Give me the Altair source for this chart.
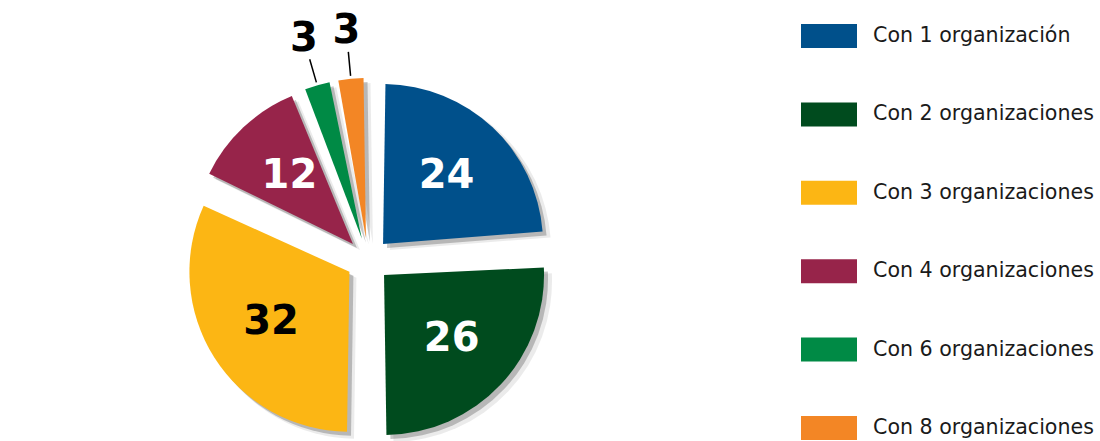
import altair as alt
import pandas as pd

categories = ["Con 1 organización", "Con 2 organizaciones", "Con 3 organizaciones",
              "Con 4 organizaciones", "Con 6 organizaciones", "Con 8 organizaciones"]
values = [24, 26, 32, 12, 3, 3]
colors = ["#00508b", "#004b1e", "#fcb614", "#97244a", "#008a45", "#f38625"]
label_colors = ["white", "white", "black", "white", "black", "black"]

df = pd.DataFrame({
    "cat": categories,
    "value": values,
    "order": list(range(len(values))),
    "lcolor": label_colors,
})

CX, CY, R, D = 368, 260, 160, 22
PAD = 0.03

base = (
    alt.Chart(df)
    .transform_window(cum="sum(value)", sort=[alt.SortField("order")], frame=[None, 0])
    .transform_joinaggregate(total="sum(value)")
    .transform_calculate(t0="(datum.cum - datum.value) / datum.total * 2 * PI")
    .transform_calculate(t1="datum.cum / datum.total * 2 * PI")
    .transform_calculate(mid="(datum.t0 + datum.t1) / 2")
    .transform_calculate(cx=f"{CX} + {D} * sin(datum.mid)")
    .transform_calculate(cy=f"{CY} - {D} * cos(datum.mid)")
)

theta = alt.Theta("t0:Q", scale=None, stack=None)
theta2 = alt.Theta2("t1:Q")

shadow2 = base.transform_calculate(sx="datum.cx + 7", sy="datum.cy + 6").mark_arc(
    outerRadius=R + 1, padAngle=PAD, color="#000000", opacity=0.08
).encode(theta=theta, theta2=theta2,
         x=alt.X("sx:Q", scale=None), y=alt.Y("sy:Q", scale=None))

shadow = base.transform_calculate(sx="datum.cx + 4", sy="datum.cy + 4").mark_arc(
    outerRadius=R, padAngle=PAD, color="#000000", opacity=0.22
).encode(theta=theta, theta2=theta2,
         x=alt.X("sx:Q", scale=None), y=alt.Y("sy:Q", scale=None))

arcs = base.mark_arc(outerRadius=R, padAngle=PAD).encode(
    theta=theta, theta2=theta2,
    x=alt.X("cx:Q", scale=None), y=alt.Y("cy:Q", scale=None),
    color=alt.Color("cat:N", scale=alt.Scale(domain=categories, range=colors), legend=None),
)

inner = (
    base.transform_filter("datum.value >= 10")
    .transform_calculate(lx=f"datum.cx + {0.58 * R} * sin(datum.mid)")
    .transform_calculate(ly=f"datum.cy - {0.58 * R} * cos(datum.mid)")
    .mark_text(fontSize=40, fontWeight="bold", font="DejaVu Sans", baseline="middle", align="center")
    .encode(x=alt.X("lx:Q", scale=None), y=alt.Y("ly:Q", scale=None),
            text="value:Q", color=alt.Color("lcolor:N", scale=None))
)

outer_base = base.transform_filter("datum.value < 10")

leaders = (
    outer_base
    .transform_calculate(x1=f"datum.cx + {R + 3} * sin(datum.mid)")
    .transform_calculate(y1=f"datum.cy - {R + 3} * cos(datum.mid)")
    .transform_calculate(x2=f"datum.cx + {R + 27} * sin(datum.mid)")
    .transform_calculate(y2=f"datum.cy - {R + 27} * cos(datum.mid)")
    .mark_rule(color="black", strokeWidth=1.5)
    .encode(x=alt.X("x1:Q", scale=None), y=alt.Y("y1:Q", scale=None),
            x2="x2:Q", y2="y2:Q")
)

outer = (
    outer_base
    .transform_calculate(lx=f"datum.cx + {R + 48} * sin(datum.mid)")
    .transform_calculate(ly=f"datum.cy - {R + 48} * cos(datum.mid)")
    .mark_text(fontSize=40, fontWeight="bold", font="DejaVu Sans", baseline="middle",
               align="center", color="black")
    .encode(x=alt.X("lx:Q", scale=None), y=alt.Y("ly:Q", scale=None), text="value:Q")
)

leg_y = alt.Y("cat:N", scale=alt.Scale(domain=categories, range=[36, 428], padding=0), axis=None)
swatch_path = "M-1,-0.4286L1,-0.4286L1,0.4286L-1,0.4286Z"

leg_sw = alt.Chart(df).mark_point(shape=swatch_path, size=3136, filled=True, opacity=1, strokeWidth=0).encode(
    x=alt.value(829), y=leg_y,
    color=alt.Color("cat:N", scale=alt.Scale(domain=categories, range=colors), legend=None),
)

leg_txt = alt.Chart(df).mark_text(
    align="left", baseline="middle", fontSize=20.6, font="DejaVu Sans", color="#1a1a1a"
).encode(x=alt.value(873), y=leg_y, text="cat:N")

chart = (
    alt.layer(shadow2, shadow, arcs, inner, leaders, outer, leg_sw, leg_txt)
    .resolve_scale(y="independent", x="independent", color="independent")
    .properties(width=1100, height=441, padding=0,
                autosize=alt.AutoSizeParams(type="none"))
    .configure_view(stroke=None)
)

chart.save("out.html", embed_options={"renderer": "svg", "actions": False})
